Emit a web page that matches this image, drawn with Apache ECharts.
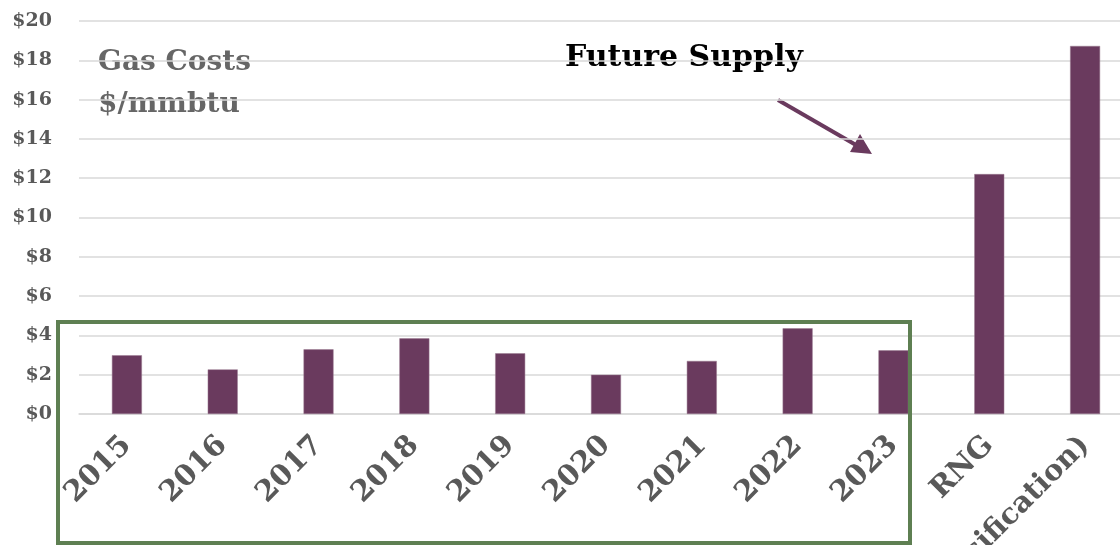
<!DOCTYPE html>
<html>
<head>
<meta charset="utf-8">
<script src="https://cdn.jsdelivr.net/npm/echarts@6/dist/echarts.min.js"></script>
<style>
  html, body { margin: 0; padding: 0; background: #fff; }
  #chart { width: 1120px; height: 545px; }
</style>
</head>
<body>
<div id="chart"></div>
<script>
var categories = ['2015', '2016', '2017', '2018', '2019', '2020', '2021', '2022', '2023', 'RNG', 'RNG (Gasification)'];
var costs = [2.99, 2.27, 3.29, 3.85, 3.09, 2.0, 2.7, 4.36, 3.24, 12.21, 18.73];
var yTicks = [0, 2, 4, 6, 8, 10, 12, 14, 16, 18, 20];

var fontFamily = '"DejaVu Serif", "Liberation Serif", serif';
var barColor = '#6a3a5e';

var chart = echarts.init(document.getElementById('chart'));

var option = {
    animation: false,
    grid: {
        left: 79,
        top: 21,
        width: 1054,
        height: 393,
        containLabel: false,
        outerBoundsMode: 'none'
    },
    xAxis: {
        type: 'category',
        data: categories,
        axisLine: { show: true, lineStyle: { color: '#d9d9d9', width: 1.5 } },
        axisTick: { show: false },
        axisLabel: {
            rotate: 45,
            margin: 27,
            interval: 0,
            color: '#595959',
            fontFamily: fontFamily,
            fontWeight: 'bold',
            fontSize: 29
        }
    },
    yAxis: {
        type: 'value',
        min: yTicks[0],
        max: yTicks[yTicks.length - 1],
        interval: 2,
        axisLine: { show: false },
        axisTick: { show: false },
        splitLine: { lineStyle: { color: '#d9d9d9', width: 1.5 } },
        axisLabel: {
            margin: 27,
            color: '#595959',
            fontFamily: fontFamily,
            fontWeight: 'bold',
            fontSize: 19,
            formatter: function (v) { return '$' + v; }
        }
    },
    series: [
        {
            name: 'Gas Costs',
            type: 'bar',
            data: costs,
            barWidth: 30,
            itemStyle: {
                color: barColor,
                borderColor: '#9a7a90',
                borderWidth: 0.5
            }
        }
    ],
    graphic: [
        {
            type: 'text',
            left: 98,
            top: 42,
            z: -1,
            style: {
                text: 'Gas Costs\n$/mmbtu',
                fill: '#666666',
                font: 'bold 28px ' + fontFamily,
                lineHeight: 42
            }
        },
        {
            type: 'text',
            left: 565,
            top: 43,
            z: -1,
            style: {
                text: 'Future Supply',
                fill: '#000000',
                font: 'bold 30px ' + fontFamily
            }
        },
        {
            type: 'line',
            shape: { x1: 778, y1: 100, x2: 856, y2: 145 },
            style: { stroke: barColor, lineWidth: 4 }
        },
        {
            type: 'polygon',
            shape: { points: [[872, 154], [850, 152], [860, 134]] },
            style: { fill: barColor }
        },
        {
            type: 'rect',
            shape: { x: 58, y: 322, width: 852, height: 221 },
            style: { fill: 'none', stroke: '#5e7f52', lineWidth: 4 },
            z: 10
        }
    ]
};

chart.setOption(option);
</script>
</body>
</html>
